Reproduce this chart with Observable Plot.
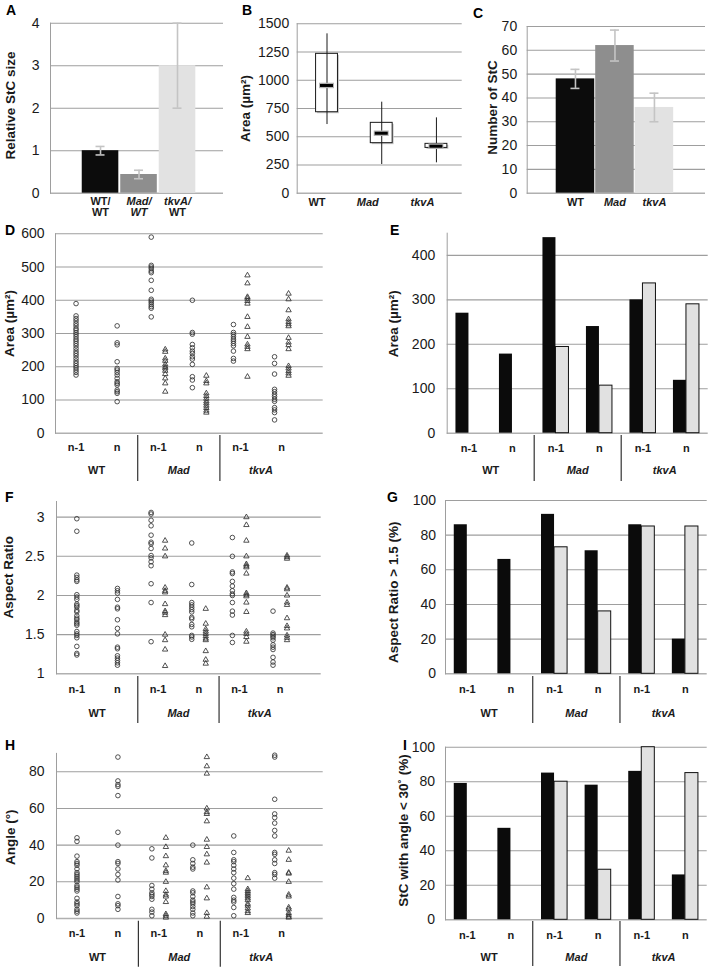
<!DOCTYPE html>
<html><head><meta charset="utf-8">
<script src="https://cdn.jsdelivr.net/npm/d3@7"></script>
<script src="https://cdn.jsdelivr.net/npm/@observablehq/plot@0.6"></script>
<style>
body{margin:0;background:#fff;}
#fig{position:relative;width:710px;height:969px;font-family:"Liberation Sans",Arial,Helvetica,sans-serif;background:#fff;overflow:hidden;}
.letter{position:absolute;font-weight:bold;font-size:14px;line-height:14px;color:#000;}
</style></head><body><div id="fig"></div><script>
// ---------------- DATA ----------------
// Panel A
const relCats = ["WT", "Mad", "tkvA"];
const relSize = [1.0, 0.44, 3.0];
const relSizeLo = [0.9, 0.34, 2.0];
const relSizeHi = [1.1, 0.54, 4.0];
const relLabels1 = ["WT/", "Mad/", "tkvA/"];
const relLabels2 = ["WT", "WT", "WT"];
// Panel B
const boxCats = ["WT", "Mad", "tkvA"];
const boxQ1 = [717, 443, 401];
const boxMed = [954, 531, 416];
const boxQ3 = [1234, 623, 437];
const boxMin = [608, 254, 269];
const boxMax = [1411, 806, 667];
// Panel C
const cntCats = ["WT", "Mad", "tkvA"];
const stcCount = [48, 62, 36];
const stcCountLo = [44, 55.5, 30];
const stcCountHi = [52, 68.5, 42];
// Panels D-I categories
const groups = ["WT", "Mad", "tkvA"];
const stages = ["n-1", "n"];
const cats = groups.flatMap(g => stages.map(s => g + " " + s));
// Panel D (area, µm²)
const areaCircles = [
  [390, 353, 345, 338, 330, 323, 315, 310, 303, 297, 290, 283, 277, 270, 263, 255, 247, 240, 233, 225, 217, 210, 203, 197, 190, 183, 175],
  [323, 272, 266, 215, 195, 190, 183, 175, 165, 155, 150, 145, 130, 125, 120, 95],
  [590, 505, 500, 495, 488, 483, 460, 430, 403, 398, 393, 387, 381, 376, 350],
  [400, 303, 298, 267, 257, 247, 240, 230, 223, 207, 170, 160, 137],
  [327, 303, 297, 290, 283, 277, 270, 263, 247, 225, 217],
  [230, 210, 178, 132, 125, 117, 110, 102, 96, 77, 70, 62, 40]
];
const areaTriangles = [
  [], [],
  [252, 245, 225, 218, 207, 200, 195, 188, 178, 165, 150, 125],
  [173, 157, 150, 120, 112, 104, 96, 90, 83, 76, 68, 62],
  [475, 451, 410, 405, 398, 390, 350, 320, 290, 267, 260, 253, 170],
  [420, 403, 370, 343, 335, 328, 322, 287, 273, 265, 253, 202, 195, 187, 180, 173]
];
// Panel E
const areaBlack = [270, 178, 440, 240, 300, 119];
const areaGray = [null, null, 194, 107, 337, 290];
// Panel F (aspect ratio)
const ratioCircles = [
  [2.98, 2.82, 2.26, 2.23, 2.2, 2.18, 2.01, 1.98, 1.95, 1.89, 1.87, 1.85, 1.81, 1.79, 1.74, 1.71, 1.69, 1.66, 1.64, 1.62, 1.54, 1.51, 1.49, 1.46, 1.35, 1.26, 1.24],
  [2.09, 2.06, 2.03, 1.95, 1.85, 1.83, 1.69, 1.58, 1.51, 1.34, 1.32, 1.23, 1.2, 1.17, 1.14, 1.11],
  [3.06, 3.04, 2.96, 2.89, 2.77, 2.68, 2.66, 2.6, 2.51, 2.48, 2.43, 2.38, 2.15, 1.91, 1.41],
  [2.67, 2.14, 1.91, 1.88, 1.85, 1.82, 1.79, 1.72, 1.7, 1.63, 1.6, 1.49, 1.47, 1.44],
  [2.74, 2.5, 2.3, 2.28, 2.18, 2.12, 2.06, 2.02, 2.0, 1.91, 1.8, 1.75, 1.49, 1.4],
  [1.8, 1.52, 1.5, 1.48, 1.46, 1.43, 1.37, 1.34, 1.31, 1.21, 1.15, 1.11]
];
const ratioTriangles = [
  [], [],
  [2.7, 2.6, 2.5, 2.1, 2.06, 2.04, 1.89, 1.8, 1.78, 1.75, 1.5, 1.43, 1.31, 1.1],
  [1.83, 1.64, 1.57, 1.54, 1.51, 1.48, 1.45, 1.43, 1.29, 1.18, 1.13],
  [3.0, 2.9, 2.7, 2.5, 2.4, 2.38, 2.36, 2.28, 2.03, 2.01, 1.99, 1.91, 1.79, 1.54, 1.51, 1.47, 1.41],
  [2.51, 2.49, 2.47, 2.1, 2.08, 2.0, 1.91, 1.88, 1.71, 1.61, 1.58, 1.49, 1.46, 1.43]
];
// Panel G
const ratioBlack = [86, 66, 92, 71, 86, 20];
const ratioGray = [null, null, 73, 36, 85, 85];
// Panel H (angle, °)
const angleCircles = [
  [44, 42, 34, 31, 30, 29, 27, 25, 24, 23, 22, 21, 20, 18, 17, 16, 15, 11, 9, 8, 7, 5, 4, 3],
  [88, 75, 73, 72, 67, 47, 40, 31, 30, 27, 24, 21, 12, 8, 7, 5],
  [38, 33, 18, 16, 14, 13, 12, 10.5, 5, 3.5, 1.5],
  [40, 32, 30, 28, 27, 15, 14, 12, 10, 9, 8, 6.5, 5, 3, 1.5],
  [45, 36, 32, 31, 29, 27, 25, 22, 19, 16, 11.5, 10, 9, 6, 1.5],
  [89, 88, 65, 57, 55, 52, 48, 45, 36, 35, 32, 30, 25, 24, 22]
];
const angleTriangles = [
  [], [],
  [44, 39, 34, 29, 26, 25, 20, 15, 13, 12, 9, 2.4, 1.5, 0.5],
  [88, 83, 79, 60, 58, 57, 53, 43, 39, 35, 30.5, 17, 11, 3, 1],
  [22, 16, 15, 14, 13, 12, 11, 10, 8, 7, 5.5, 4, 3],
  [37, 32, 25, 24.5, 20, 13, 12, 6, 5, 3, 2, 1, 0.5]
];
// Panel I
const angleBlack = [79, 53, 85, 78, 86, 26];
const angleGray = [null, null, 80, 29, 100, 85];

// ---------------- STYLE ----------------
const FONT = '"Liberation Sans", Arial, Helvetica, sans-serif';
const GRID = "#9e9e9e";
const BASE = "#b0b0b0";
const INK = "#1a1a1a";
const TICKFS = 14;
const fig = document.getElementById("fig");

function panel(p) {
  const svg = Plot.plot({
    width: p.width, height: p.height,
    marginLeft: p.x0 - p.left, marginRight: p.left + p.width - p.x1,
    marginTop: p.y0 - p.top, marginBottom: p.top + p.height - p.y1,
    style: {fontFamily: FONT, background: "transparent", color: INK, overflow: "visible"},
    x: {type: "band", round: false, ...p.x, axis: null},
    y: {domain: p.yDomain, axis: null},
    marks: p.marks
  });
  svg.style.position = "absolute";
  svg.style.left = p.left + "px";
  svg.style.top = p.top + "px";
  fig.appendChild(svg);
}
function gridMarks(ticks, fmt, pad) {
  return [
    Plot.ruleY(ticks.slice(1), {stroke: GRID, strokeWidth: 1.1}),
    Plot.ruleY([ticks[0]], {stroke: BASE, strokeWidth: 1.6}),
    Plot.axisY({ticks, tickSize: 0, tickPadding: pad, fontSize: TICKFS, tickFormat: fmt || (d => String(d)), label: null, fill: INK})
  ];
}
function yLabel(p, label, cx, cy, fs) {
  return Plot.text([label], {text: d => d, frameAnchor: "left", rotate: -90,
    dx: cx - p.x0, dy: cy - (p.y0 + p.y1) / 2, fontWeight: "bold", fontSize: fs || 13.5,
    textAnchor: "middle", lineAnchor: "middle", fill: INK});
}
function letter(ch, x, y) {
  const d = document.createElement("div");
  d.className = "letter"; d.textContent = ch;
  d.style.left = x + "px"; d.style.top = (y - 2) + "px";
  fig.appendChild(d);
}
// two-row category axis with separators for D-I
function catAxis(p, step, row1, row2, sepTop, sepBot) {
  const frameH = p.y1 - p.y0;
  return [
    Plot.text(cats, {x: d => d, text: d => d.slice(d.indexOf(" ") + 1), frameAnchor: "bottom",
      dy: row1 - p.y1, lineAnchor: "middle", fontWeight: "bold", fontSize: 11, fill: INK}),
    Plot.text(groups.filter(g => g === "WT"), {x: g => g + " n-1", dx: step / 2, text: g => g, frameAnchor: "bottom",
      dy: row2 - p.y1, lineAnchor: "middle", fontWeight: "bold", fontSize: 11, fill: INK}),
    Plot.text(groups.filter(g => g !== "WT"), {x: g => g + " n-1", dx: step / 2, text: g => g, frameAnchor: "bottom",
      dy: row2 - p.y1, lineAnchor: "middle", fontWeight: "bold", fontStyle: "italic", fontSize: 11, fill: INK}),
    Plot.ruleX(groups.slice(1), {x: g => g + " n-1", dx: -step / 2, stroke: "#333", strokeWidth: 1.2,
      insetTop: frameH + (sepTop - p.y1), insetBottom: -(sepBot - p.y1)})
  ];
}

// ---------------- PANEL A ----------------
{
  const p = {left: 0, top: 0, width: 230, height: 222, x0: 50, x1: 223, y0: 22.7, y1: 192.7};
  const x = {domain: relCats, paddingInner: 0.05, paddingOuter: 0.772, align: 0.534};
  const step = (p.x1 - p.x0) / (3 - 0.05 + 2 * 0.772), bw = step * 0.95;
  const colors = ["#0c0c0c", "#8e8e8e", "#e2e2e2"];
  const idx = relCats.map((c, i) => i);
  p.x = x; p.yDomain = [0, 4];
  p.marks = [
    ...gridMarks([0, 1, 2, 3, 4], null, 11),
    ...idx.map(i => Plot.barY([i], {x: j => relCats[j], y: j => relSize[j], fill: colors[i]})),
    Plot.ruleX(idx, {x: j => relCats[j], y1: j => relSizeLo[j], y2: j => relSizeHi[j], stroke: "#c4c4c4", strokeWidth: 1.6}),
    Plot.tickY(idx, {x: j => relCats[j], y: j => relSizeLo[j], stroke: "#c4c4c4", strokeWidth: 1.6, insetLeft: (bw - 9) / 2, insetRight: (bw - 9) / 2}),
    Plot.tickY(idx, {x: j => relCats[j], y: j => relSizeHi[j], stroke: "#c4c4c4", strokeWidth: 1.6, insetLeft: (bw - 9) / 2, insetRight: (bw - 9) / 2}),
    Plot.frame({anchor: "left", stroke: GRID}),
    Plot.text(idx.filter(i => i === 0), {x: j => relCats[j], text: j => relLabels1[j], frameAnchor: "bottom", dy: 8.5, lineAnchor: "middle", fontWeight: "bold", fontSize: 11, fill: INK}),
    Plot.text(idx.filter(i => i > 0), {x: j => relCats[j], text: j => relLabels1[j], frameAnchor: "bottom", dy: 8.5, lineAnchor: "middle", fontWeight: "bold", fontStyle: "italic", fontSize: 11, fill: INK}),
    Plot.text(idx.filter(i => i !== 1), {x: j => relCats[j], text: j => relLabels2[j], frameAnchor: "bottom", dy: 19, lineAnchor: "middle", fontWeight: "bold", fontSize: 11, fill: INK}),
    Plot.text(idx.filter(i => i === 1), {x: j => relCats[j], text: j => relLabels2[j], frameAnchor: "bottom", dy: 19, lineAnchor: "middle", fontWeight: "bold", fontStyle: "italic", fontSize: 11, fill: INK}),
    yLabel(p, "Relative StC size", 10, 105)
  ];
  panel(p);
}
// ---------------- PANEL B ----------------
{
  const p = {left: 230, top: 0, width: 240, height: 222, x0: 296.7, x1: 461.7, y0: 23.3, y1: 192.7};
  p.x = {domain: boxCats, paddingInner: 0.6, paddingOuter: 0.308, align: 0.56};
  const step = (p.x1 - p.x0) / (3 - 0.6 + 2 * 0.308), bw = step * 0.4;
  const idx = boxCats.map((c, i) => i);
  p.yDomain = [0, 1500];
  const medInset = (bw - 13) / 2;
  p.marks = [
    ...gridMarks([0, 250, 500, 750, 1000, 1250, 1500], null, 8),
    Plot.barY(idx, {x: j => boxCats[j], y1: j => boxQ1[j], y2: j => boxQ3[j], fill: "#c8c8c8", dx: 1.5, dy: 1.5}),
    Plot.barY(idx, {x: j => boxCats[j], y1: j => boxQ1[j], y2: j => boxQ3[j], fill: "#fff", stroke: INK, strokeWidth: 1}),
    Plot.ruleX(idx, {x: j => boxCats[j], y1: j => boxMin[j], y2: j => boxMax[j], stroke: INK, strokeWidth: 1}),
    Plot.tickY(idx, {x: j => boxCats[j], y: j => boxMed[j], stroke: "#b5b5b5", strokeWidth: 5.5, insetLeft: medInset - 1, insetRight: medInset - 1}),
    Plot.tickY(idx, {x: j => boxCats[j], y: j => boxMed[j], stroke: "#000", strokeWidth: 3, insetLeft: medInset, insetRight: medInset}),
    Plot.frame({anchor: "left", stroke: GRID}),
    Plot.text(idx.filter(i => i === 0), {x: j => boxCats[j], text: j => boxCats[j], frameAnchor: "bottom", dx: -10, dy: 9, lineAnchor: "middle", fontWeight: "bold", fontSize: 11, fill: INK}),
    Plot.text(idx.filter(i => i > 0), {x: j => boxCats[j], text: j => boxCats[j], frameAnchor: "bottom", dx: -14, dy: 9, lineAnchor: "middle", fontWeight: "bold", fontStyle: "italic", fontSize: 11, fill: INK}),
    yLabel(p, "Area (µm²)", 245, 108)
  ];
  panel(p);
}
// ---------------- PANEL C ----------------
{
  const p = {left: 470, top: 0, width: 240, height: 222, x0: 526.7, x1: 705, y0: 26, y1: 192.7};
  p.x = {domain: cntCats, paddingInner: 0.025, paddingOuter: 0.77, align: 0.477};
  const step = (p.x1 - p.x0) / (3 - 0.025 + 2 * 0.77), bw = step * 0.975;
  const colors = ["#0c0c0c", "#8e8e8e", "#e2e2e2"];
  const idx = cntCats.map((c, i) => i);
  p.yDomain = [0, 70];
  const ci = (bw - 9) / 2;
  p.marks = [
    ...gridMarks([0, 10, 20, 30, 40, 50, 60, 70], null, 10),
    ...idx.map(i => Plot.barY([i], {x: j => cntCats[j], y: j => stcCount[j], fill: colors[i]})),
    Plot.ruleX(idx, {x: j => cntCats[j], y1: j => stcCountLo[j], y2: j => stcCountHi[j], stroke: "#c4c4c4", strokeWidth: 1.6}),
    Plot.tickY(idx, {x: j => cntCats[j], y: j => stcCountLo[j], stroke: "#c4c4c4", strokeWidth: 1.6, insetLeft: ci, insetRight: ci}),
    Plot.tickY(idx, {x: j => cntCats[j], y: j => stcCountHi[j], stroke: "#c4c4c4", strokeWidth: 1.6, insetLeft: ci, insetRight: ci}),
    Plot.frame({anchor: "left", stroke: GRID}),
    Plot.text(idx.filter(i => i === 0), {x: j => cntCats[j], text: j => cntCats[j], frameAnchor: "bottom", dy: 9, lineAnchor: "middle", fontWeight: "bold", fontSize: 11, fill: INK}),
    Plot.text(idx.filter(i => i > 0), {x: j => cntCats[j], text: j => cntCats[j], frameAnchor: "bottom", dy: 9, lineAnchor: "middle", fontWeight: "bold", fontStyle: "italic", fontSize: 11, fill: INK}),
    yLabel(p, "Number of StC", 492, 107)
  ];
  panel(p);
}
// ---------------- SCATTER PANELS ----------------
function scatter(p, circles, triangles, ticks, fmt, pad, label, lx, ly, rows) {
  const po = 0.2566;
  p.x = {domain: cats, paddingInner: 0, paddingOuter: po, align: 0};
  const step = (p.x1 - p.x0) / (6 + 2 * po);
  const flat = (arrs) => arrs.flatMap((a, i) => a.map(v => ({c: cats[i], v, wt: i < 2})));
  const C = flat(circles), T = flat(triangles);
  p.marks = [
    ...gridMarks(ticks, fmt, pad),
    Plot.frame({anchor: "left", stroke: GRID}),
    Plot.dot(C.filter(d => d.wt), {x: "c", y: "v", r: 2.3, stroke: "#333", strokeWidth: 0.85, fill: "none"}),
    Plot.dot(C.filter(d => !d.wt), {x: "c", y: "v", r: 2.3, dx: -7, stroke: "#333", strokeWidth: 0.85, fill: "none"}),
    Plot.dot(T, {x: "c", y: "v", r: 2.0, dx: 7, symbol: "triangle", stroke: "#333", strokeWidth: 0.85, fill: "none"}),
    ...catAxis(p, step, ...rows),
    yLabel(p, label, lx, ly)
  ];
  panel(p);
}
function bars(p, black, gray, ticks, pad, label, lx, ly, rows, fs) {
  const pi = 0.402;
  p.x = {domain: cats, paddingInner: pi, paddingOuter: pi / 2, align: 0.5};
  const step = (p.x1 - p.x0) / 6, bw = step * (1 - pi);
  const idx = cats.map((c, i) => i);
  p.marks = [
    ...gridMarks(ticks, null, pad),
    Plot.barY(idx, {x: i => cats[i], y: i => black[i], fill: "#0b0b0b", insetRight: bw / 2}),
    Plot.barY(idx.filter(i => gray[i] != null), {x: i => cats[i], y: i => gray[i], fill: "#e1e1e1", stroke: "#111", strokeWidth: 1, insetLeft: bw / 2}),
    Plot.frame({anchor: "left", stroke: GRID}),
    ...catAxis(p, step, ...rows),
    yLabel(p, label, lx, ly, fs)
  ];
  panel(p);
}
scatter({left: 0, top: 218, width: 345, height: 267, x0: 55, x1: 322.7, y0: 233.3, y1: 432.7, yDomain: [0, 600]},
  areaCircles, areaTriangles, [0, 100, 200, 300, 400, 500, 600], null, 11, "Area (µm²)", 9, 323, [447, 470, 435, 481]);
bars({left: 345, top: 218, width: 365, height: 267, x0: 446.7, x1: 707.7, y0: 232.7, y1: 432.7, yDomain: [0, 450]},
  areaBlack, areaGray, [0, 100, 200, 300, 400], 12, "Area (µm²)", 393.3, 323.3, [448.3, 470, 435, 481]);
scatter({left: 0, top: 485, width: 345, height: 245, x0: 56, x1: 320.7, y0: 501, y1: 673.3, yDomain: [1, 3.2]},
  ratioCircles, ratioTriangles, [1, 1.5, 2, 2.5, 3], null, 12, "Aspect Ratio", 8.3, 576.7, [689, 713, 676, 723]);
bars({left: 345, top: 485, width: 365, height: 245, x0: 445, x1: 706.7, y0: 500, y1: 673.3, yDomain: [0, 100]},
  ratioBlack, ratioGray, [0, 20, 40, 60, 80, 100], 9.5, "Aspect Ratio > 1.5 (%)", 393.3, 591.7, [689, 713, 676, 723]);
scatter({left: 0, top: 730, width: 345, height: 239, x0: 56, x1: 322.7, y0: 752.9, y1: 918, yDomain: [0, 90]},
  angleCircles, angleTriangles, [0, 20, 40, 60, 80], null, 12, "Angle (°)", 10, 836.7, [933.3, 956.7, 920.7, 966.7]);
bars({left: 345, top: 730, width: 365, height: 239, x0: 445, x1: 706.7, y0: 746.7, y1: 919.3, yDomain: [0, 100]},
  angleBlack, angleGray, [0, 20, 40, 60, 80, 100], 10.5, "StC with angle < 30˚ (%)", 403.3, 830, [935, 957.3, 921, 966], 13.5);

// letters
letter("A", 6, 5); letter("B", 242, 5); letter("C", 473, 8);
letter("D", 5, 225); letter("E", 390, 225);
letter("F", 5, 492); letter("G", 387, 492);
letter("H", 5, 740); letter("I", 403, 740);
</script></body></html>
